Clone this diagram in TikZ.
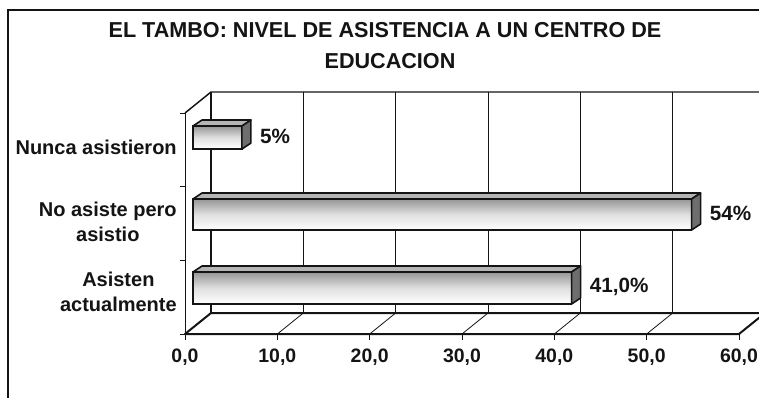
\documentclass[tikz,border=0pt]{standalone}
\usepackage{fontspec}
\setmainfont{Liberation Sans}
\usepackage{xcolor}
\definecolor{ink}{RGB}{20,20,20}
\definecolor{barshade}{RGB}{150,150,150}
\definecolor{barside}{RGB}{110,110,110}
\usetikzlibrary{calc,positioning}

\begin{document}
\begin{tikzpicture}[x=0.75pt,y=-0.75pt,
    every node/.style={inner sep=0pt, text=ink},
    gridline/.style={draw=ink, line width=0.6pt},
    floorline/.style={draw=ink, line width=1.5pt, line join=round},
    barface/.style={draw=ink, line width=1.2pt, top color=barshade, bottom color=white, middle color=white!70!barshade},
    bartop/.style={draw=ink, line width=1.2pt, fill=barshade!70, line join=round},
    barend/.style={draw=ink, line width=1.2pt, fill=barside, line join=round},
    catlabel/.style={font=\bfseries\fontsize{15}{19}\selectfont, align=center, anchor=east},
    numlabel/.style={font=\bfseries\fontsize{14.6}{17}\selectfont}]
    \useasboundingbox (0,0) rectangle (759,397);
    \clip (0,0) rectangle (759,397);

    \draw[ink, line width=0.9pt] (8,10) rectangle (800,430);
    \node[font=\bfseries\fontsize{16.2}{20}\selectfont, anchor=base] (title) at (385,37)
        {EL TAMBO: NIVEL DE ASISTENCIA A UN CENTRO DE};
    \node[font=\bfseries\fontsize{16.2}{20}\selectfont, anchor=base] (subtitle) at (390,68)
        {EDUCACION};

    % back wall
    \begin{scope}
        \foreach \k in {1,...,6}
            \draw[gridline] ({211+92.33*\k},92) -- ({211+92.33*\k},313);
        \draw[gridline, line width=1.1pt] (211,92) -- (211,313);
        \draw[gridline, line width=1.1pt] (185,113) -- (211,92) -- (770,92);
    \end{scope}

    % floor and axes
    \begin{scope}
        \foreach \k in {1,...,5}
            \draw[gridline] ({185+92.33*\k},334) -- ({211+92.33*\k},313);
        \draw[floorline] (185,334) -- (739,334) -- (765,313) -- (211,313) -- cycle;
        \draw[gridline] (185,113) -- (185,334);
        \foreach \j in {0,...,3}
            \draw[gridline] (180,{113+73.67*\j}) -- (185,{113+73.67*\j});
        \foreach \k in {0,...,6} {
            \draw[gridline] ({185+92.33*\k},334) -- ({185+92.33*\k},340);
            \node[numlabel] (xlab\k) at ({185+92.33*\k},357) {\pgfmathprint{int(10*\k)},0};
        }
    \end{scope}

    % bars
    \foreach \name/\val/\ytop/\ybot/\lab in {nunca/5.3/126/149/{5\%},
                                               noasiste/54/199/230/{54\%},
                                               asisten/41/272/304/{41,0\%}} {
        \pgfmathsetmacro\xr{193+9.233*\val}
        \draw[barface] (193,\ytop) rectangle (\xr,\ybot);
        \draw[bartop] (193,\ytop) -- (202,{\ytop-6}) -- ({\xr+9},{\ytop-6}) -- (\xr,\ytop) -- cycle;
        \draw[barend] (\xr,\ytop) -- ({\xr+9},{\ytop-6}) -- ({\xr+9},{\ybot-6}) -- (\xr,\ybot) -- cycle;
        \node[font=\bfseries\fontsize{15.5}{18}\selectfont, anchor=west] (val-\name)
            at ({\xr+18},{(\ytop+\ybot)/2-1}) {\lab};
    }

    \node[catlabel] (cat-nunca) at (177,147) {Nunca asistieron};
    \node[catlabel] (cat-noasiste) at (177,222) {No asiste pero\\asistio};
    \node[catlabel] (cat-asisten) at (177,292) {Asisten\\actualmente};
\end{tikzpicture}
\end{document}
